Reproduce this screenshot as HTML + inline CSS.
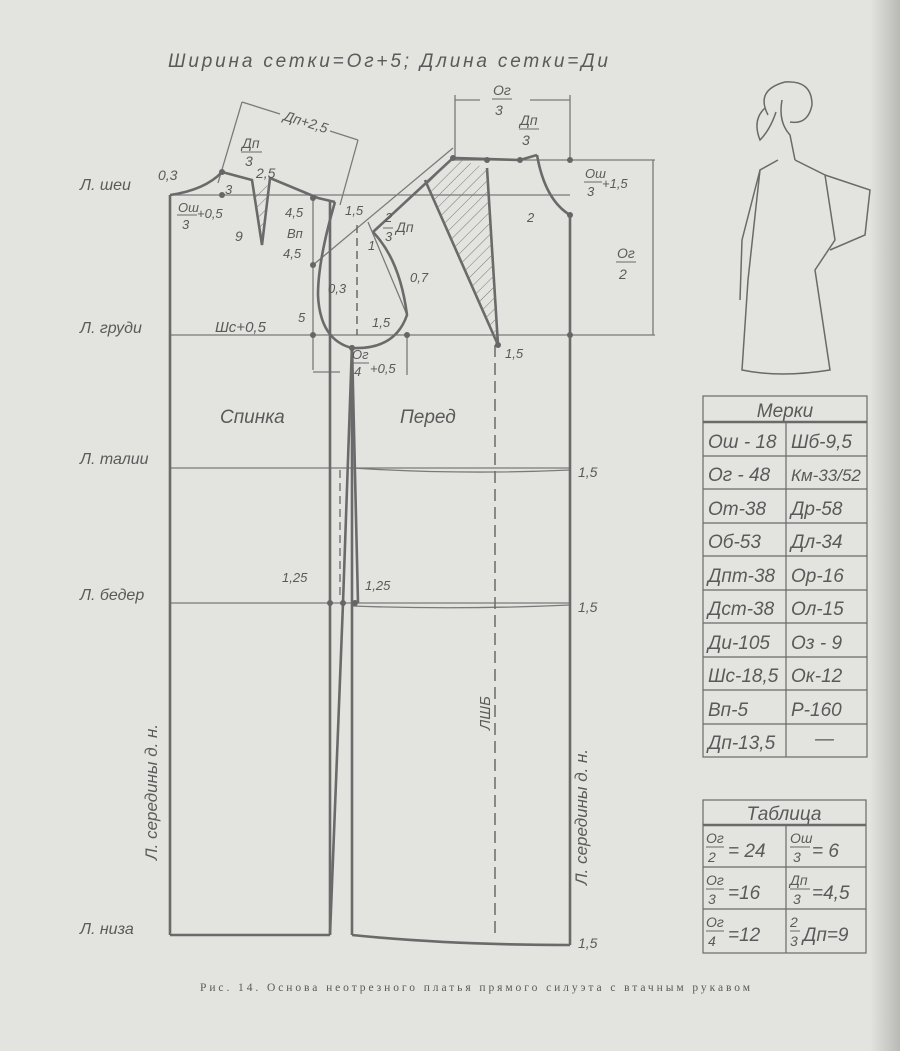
<!DOCTYPE html>
<html><head><meta charset="utf-8"><style>
html,body{margin:0;padding:0}
body{width:900px;height:1051px;background:#e3e3df;overflow:hidden;position:relative}
svg{position:absolute;left:0;top:0}
text{font-family:"Liberation Sans",sans-serif;font-style:italic;fill:#5a5a5a}
</style></head><body>
<svg width="900" height="1051" viewBox="0 0 900 1051">
<defs>
<linearGradient id="edge" x1="0" x2="1"><stop offset="0" stop-color="#e3e3df"/><stop offset="1" stop-color="#b9b9b5"/></linearGradient>
<pattern id="hat" width="8" height="8" patternUnits="userSpaceOnUse" patternTransform="rotate(45)"><line x1="0" y1="0" x2="0" y2="8" stroke="#777" stroke-width="1"/></pattern>
</defs>
<rect x="870" y="0" width="30" height="1051" fill="url(#edge)"/>
<g stroke="#7a7a7a" fill="none" stroke-width="1.3">
<line x1="170" y1="195" x2="570" y2="195"/>
<line x1="455" y1="160" x2="655" y2="160"/>
<line x1="170" y1="335" x2="655" y2="335"/>
<line x1="170" y1="468" x2="570" y2="468"/>
<path d="M352 468 Q460 475 570 470"/>
<line x1="170" y1="603" x2="570" y2="603"/>
<path d="M352 606 Q460 610 570 605"/>
<line x1="653" y1="160" x2="653" y2="335"/>
<line x1="455" y1="95" x2="455" y2="160"/>
<line x1="570" y1="95" x2="570" y2="160"/>
<line x1="455" y1="100" x2="480" y2="100"/><line x1="530" y1="100" x2="570" y2="100"/>
<line x1="313" y1="195" x2="313" y2="370"/>
<line x1="407" y1="335" x2="407" y2="375"/>
<line x1="313" y1="372" x2="340" y2="372"/>
<line x1="242" y1="102" x2="218" y2="183"/>
<line x1="242" y1="102" x2="280" y2="114"/>
<line x1="330" y1="131" x2="358" y2="140"/>
<line x1="358" y1="140" x2="340" y2="205"/>
<line x1="313" y1="265" x2="453" y2="148"/>
<line x1="368" y1="222" x2="407" y2="315"/>
</g>
<g stroke="#6a6a6a" fill="none" stroke-width="2.6">
<line x1="170" y1="195" x2="170" y2="935"/>
<line x1="570" y1="215" x2="570" y2="945"/>
<path d="M170 195 Q205 190 222 172"/>
<path d="M222 172 L252 180 L262 245 L270 178 L318 198 L335 202"/>
<path d="M335 202 Q318 260 318 295 Q320 340 352 348 Q395 350 407 315 Q400 260 373 232"/>
<path d="M373 232 L453 158 L520 160 L537 155"/>
<path d="M537 155 Q545 200 570 215"/>
<path d="M425 180 L498 345 L487 168"/>
<line x1="330" y1="200" x2="330" y2="935"/>
<line x1="352" y1="345" x2="352" y2="935"/>
<path d="M352 345 L343 603 L330 935"/>
<path d="M352 345 L358 603"/>
<path d="M170 935 L330 935"/>
<path d="M352 935 Q450 945 570 945"/>
</g>
<path d="M425 180 L453 158 L487 168 L498 345 Z" fill="url(#hat)" stroke="none"/>
<path d="M254 190 L268 180 L262 240 Z" fill="url(#hat)" stroke="none"/>
<line x1="495" y1="345" x2="495" y2="935" stroke="#6a6a6a" stroke-width="1.5" stroke-dasharray="12,6"/>
<line x1="357" y1="225" x2="357" y2="335" stroke="#6a6a6a" stroke-width="1.5" stroke-dasharray="8,5"/>
<line x1="340" y1="470" x2="340" y2="600" stroke="#6a6a6a" stroke-width="1.3" stroke-dasharray="8,5"/>
<g fill="#666">
<circle cx="222" cy="172" r="3"/><circle cx="222" cy="195" r="3"/><circle cx="313" cy="198" r="3"/><circle cx="313" cy="265" r="3"/>
<circle cx="453" cy="158" r="3"/><circle cx="487" cy="160" r="3"/><circle cx="520" cy="160" r="3"/><circle cx="570" cy="160" r="3"/>
<circle cx="570" cy="215" r="3"/><circle cx="313" cy="335" r="3"/><circle cx="407" cy="335" r="3"/><circle cx="570" cy="335" r="3"/>
<circle cx="498" cy="345" r="3"/><circle cx="352" cy="348" r="3"/><circle cx="330" cy="603" r="3"/><circle cx="343" cy="603" r="3"/><circle cx="355" cy="603" r="3"/>
</g>
<g stroke="#6a6a6a" stroke-width="1">
<line x1="241" y1="152" x2="262" y2="152"/>
<line x1="177" y1="215" x2="197" y2="215"/>
<line x1="383" y1="228" x2="393" y2="228"/>
<line x1="351" y1="363" x2="369" y2="363"/>
<line x1="492" y1="99" x2="512" y2="99"/>
<line x1="519" y1="129" x2="539" y2="129"/>
<line x1="584" y1="182" x2="602" y2="182"/>
<line x1="616" y1="262" x2="636" y2="262"/>
<line x1="706" y1="847" x2="724" y2="847"/><line x1="790" y1="847" x2="810" y2="847"/>
<line x1="706" y1="889" x2="724" y2="889"/><line x1="790" y1="889" x2="810" y2="889"/>
<line x1="706" y1="931" x2="724" y2="931"/><line x1="790" y1="931" x2="800" y2="931"/>
</g>
<g font-size="16">
<text x="168" y="67" font-size="19" textLength="440" lengthAdjust="spacing">Ширина сетки=Ог+5;   Длина сетки=Ди</text>
<text x="80" y="190">Л. шеи</text>
<text x="80" y="333">Л. груди</text>
<text x="80" y="464">Л. талии</text>
<text x="80" y="600">Л. бедер</text>
<text x="80" y="934">Л. низа</text>
<text x="220" y="423" font-size="19">Спинка</text>
<text x="400" y="423" font-size="19">Перед</text>
<text x="215" y="332" font-size="15">Шс+0,5</text>
<text x="283" y="120" font-size="14" transform="rotate(17 283 120)">Дп+2,5</text>
<text x="158" y="180" font-size="14">0,3</text>
<text x="242" y="148" font-size="14">Дп</text><text x="245" y="166" font-size="14">3</text>
<text x="256" y="178" font-size="14">2,5</text>
<text x="178" y="212" font-size="13">Ош</text><text x="182" y="229" font-size="13">3</text><text x="197" y="218" font-size="13">+0,5</text>
<text x="225" y="194" font-size="13">3</text>
<text x="235" y="241" font-size="14">9</text>
<text x="285" y="217" font-size="13">4,5</text><text x="287" y="238" font-size="13">Вп</text><text x="283" y="258" font-size="13">4,5</text>
<text x="345" y="215" font-size="13">1,5</text>
<text x="385" y="222" font-size="13">2</text><text x="385" y="241" font-size="13">3</text><text x="396" y="232" font-size="14">Дп</text>
<text x="368" y="250" font-size="13">1</text>
<text x="410" y="282" font-size="13">0,7</text>
<text x="328" y="293" font-size="13">0,3</text>
<text x="298" y="322" font-size="13">5</text>
<text x="372" y="327" font-size="13">1,5</text>
<text x="352" y="359" font-size="13">Ог</text><text x="354" y="376" font-size="13">4</text><text x="370" y="373" font-size="13">+0,5</text>
<text x="505" y="358" font-size="13">1,5</text>
<text x="493" y="95" font-size="14">Ог</text><text x="495" y="115" font-size="14">3</text>
<text x="520" y="125" font-size="14">Дп</text><text x="522" y="145" font-size="14">3</text>
<text x="585" y="178" font-size="13">Ош</text><text x="587" y="196" font-size="13">3</text><text x="602" y="188" font-size="13">+1,5</text>
<text x="527" y="222" font-size="13">2</text>
<text x="617" y="258" font-size="14">Ог</text><text x="619" y="279" font-size="14">2</text>
<text x="282" y="582" font-size="13">1,25</text><text x="365" y="590" font-size="13">1,25</text>
<text x="578" y="477" font-size="14">1,5</text><text x="578" y="612" font-size="14">1,5</text><text x="578" y="948" font-size="14">1,5</text>
<text transform="translate(157 860) rotate(-90)" font-size="17">Л. середины   д. н.</text>
<text transform="translate(587 885) rotate(-90)" font-size="17">Л. середины   д. н.</text>
<text transform="translate(490 730) rotate(-90)" font-size="15">ЛШБ</text>
</g>
<g stroke="#6a6a6a" fill="none" stroke-width="1.5">
<path d="M768 115 Q755 90 785 82 Q812 80 812 105 Q808 125 790 122"/>
<path d="M765 108 Q752 120 760 140 Q770 130 776 112"/>
<path d="M782 100 Q778 122 790 135 L795 160"/>
<path d="M778 160 L760 170 L748 280 L742 370 Q780 378 830 370 L815 270 L835 240 L825 175 L795 160"/>
<path d="M760 170 L742 240 L740 300"/>
<path d="M825 175 L870 190 L865 235 L830 250"/>
</g>
<g stroke="#6a6a6a" fill="none" stroke-width="1.2">
<rect x="703" y="396" width="164" height="361"/>
<line x1="703" y1="422" x2="867" y2="422" stroke-width="2.5"/>
<line x1="786" y1="422" x2="786" y2="757"/>
<line x1="703" y1="456" x2="867" y2="456"/><line x1="703" y1="489" x2="867" y2="489"/>
<line x1="703" y1="523" x2="867" y2="523"/><line x1="703" y1="556" x2="867" y2="556"/>
<line x1="703" y1="590" x2="867" y2="590"/><line x1="703" y1="623" x2="867" y2="623"/>
<line x1="703" y1="657" x2="867" y2="657"/><line x1="703" y1="690" x2="867" y2="690"/>
<line x1="703" y1="724" x2="867" y2="724"/>
<rect x="703" y="800" width="163" height="153"/>
<line x1="703" y1="825" x2="866" y2="825" stroke-width="2.5"/>
<line x1="786" y1="825" x2="786" y2="953"/>
<line x1="703" y1="867" x2="866" y2="867"/><line x1="703" y1="909" x2="866" y2="909"/>
</g>
<g font-size="19">
<text x="785" y="417" text-anchor="middle">Мерки</text>
<text x="708" y="448">Ош - 18</text><text x="791" y="448">Шб-9,5</text>
<text x="708" y="481">Ог - 48</text><text x="791" y="481" font-size="17">Км-33/52</text>
<text x="708" y="515">От-38</text><text x="791" y="515">Др-58</text>
<text x="708" y="548">Об-53</text><text x="791" y="548">Дл-34</text>
<text x="708" y="582">Дпт-38</text><text x="791" y="582">Ор-16</text>
<text x="708" y="615">Дст-38</text><text x="791" y="615">Ол-15</text>
<text x="708" y="649">Ди-105</text><text x="791" y="649">Оз - 9</text>
<text x="708" y="682">Шс-18,5</text><text x="791" y="682">Ок-12</text>
<text x="708" y="716">Вп-5</text><text x="791" y="716">Р-160</text>
<text x="708" y="749">Дп-13,5</text><text x="815" y="745">—</text>
<text x="784" y="820" text-anchor="middle">Таблица</text>
<text x="706" y="843" font-size="14">Ог</text><text x="708" y="862" font-size="14">2</text><text x="728" y="857">= 24</text>
<text x="790" y="843" font-size="14">Ош</text><text x="793" y="862" font-size="14">3</text><text x="812" y="857">= 6</text>
<text x="706" y="885" font-size="14">Ог</text><text x="708" y="904" font-size="14">3</text><text x="728" y="899">=16</text>
<text x="790" y="885" font-size="14">Дп</text><text x="793" y="904" font-size="14">3</text><text x="812" y="899">=4,5</text>
<text x="706" y="927" font-size="14">Ог</text><text x="708" y="946" font-size="14">4</text><text x="728" y="941">=12</text>
<text x="790" y="927" font-size="14">2</text><text x="790" y="946" font-size="14">3</text><text x="803" y="941">Дп=9</text>
</g>
<text x="475" y="991" text-anchor="middle" font-size="11.5" style="font-family:'Liberation Serif',serif;font-style:normal" fill="#555" textLength="550" lengthAdjust="spacing">Рис. 14. Основа неотрезного платья прямого силуэта с втачным рукавом</text>
</svg>
</body></html>
